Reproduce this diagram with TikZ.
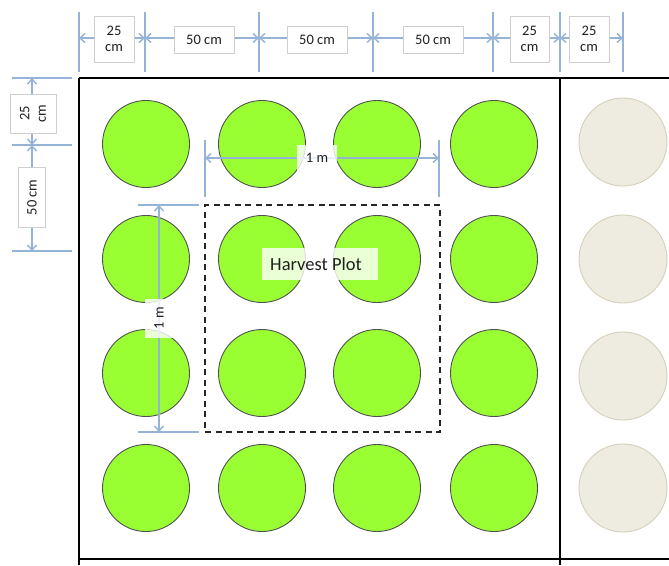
\documentclass[tikz,border=0pt]{standalone}
\usepackage{fontspec}
\setmainfont{Carlito}
\usetikzlibrary{arrows.meta}
\definecolor{dimblue}{HTML}{95B3D7}
\definecolor{plantgreen}{HTML}{99FF33}
\definecolor{plantedge}{HTML}{505050}
\definecolor{guardfill}{HTML}{EEEBE0}
\definecolor{guardedge}{HTML}{D6D0BA}
\definecolor{boxedge}{HTML}{CFCFCF}
\definecolor{labeltext}{HTML}{1F1F1F}
\begin{document}
\begin{tikzpicture}[x=1pt,y=-1pt,
  plant/.style={circle,draw=plantedge,fill=plantgreen,line width=0.9pt,minimum size=87pt,inner sep=0pt},
  guard/.style={circle,draw=guardedge,fill=guardfill,line width=0.9pt,minimum size=88pt,inner sep=0pt},
  extline/.style={draw=dimblue,line width=1.4pt},
  dimline/.style={draw=dimblue,line width=1.4pt,{Straight Barb[length=5pt,width=9pt]}-{Straight Barb[length=5pt,width=9pt]}},
  dimlabel/.style={draw=boxedge,fill=white,line width=0.6pt,inner sep=0pt,align=center,
    font=\fontsize{14.5}{16.5}\selectfont,text=labeltext},
  softlabel/.style={fill=white,fill opacity=0.8,text opacity=1,inner sep=0pt,align=center,
    font=\fontsize{14.5}{16.5}\selectfont,text=labeltext},
  plotline/.style={draw=black,line width=1.8pt},
  harvest/.style={draw=black!85,line width=1.8pt,dash pattern=on 6pt off 4.5pt}]
\useasboundingbox (0,0) rectangle (669,565);

% plot outline and neighbouring plot divider
\coordinate (btl) at (79,78);
\coordinate (btr) at (669,78);
\coordinate (bbl) at (79,559);
\coordinate (bbr) at (669,559);
\coordinate (lbot) at (79,565);
\coordinate (dtop) at (560,78);
\coordinate (dbot) at (560,565);
\draw[plotline] (btl) -- (btr);
\draw[plotline] (bbl) -- (bbr);
\draw[plotline] (btl) -- (lbot);
\draw[plotline] (dtop) -- (dbot);

% plants of the plot, 4 x 4
\foreach \r/\y in {1/144,2/259,3/373,4/488}{
  \foreach \c/\x in {1/146,2/262,3/377,4/494}{
    \node[plant] (p\r\c) at (\x,\y) {};
  }
}
% plants of the neighbouring plot
\foreach \r/\y in {1/142,2/259,3/376,4/488}{
  \node[guard] (g\r) at (623,\y) {};
}

% harvest plot
\node[harvest,minimum width=235pt,minimum height=227pt,inner sep=0pt] (hp) at (322.5,318.5) {};
\node[softlabel,minimum width=116pt,minimum height=32pt,font=\fontsize{18.5}{21}\selectfont] (hplabel) at (320,264) {Harvest Plot\hspace{8pt}};

% top row of dimensions
\foreach \i/\x in {0/79,1/145,2/259,3/373,4/493,5/560,6/623}{
  \coordinate (te\i a) at (\x,12);
  \coordinate (te\i b) at (\x,72);
  \coordinate (td\i) at (\x,38);
  \draw[extline] (te\i a) -- (te\i b);
}
\foreach \i/\j in {0/1,1/2,2/3,3/4,4/5,5/6}{
  \draw[dimline] (td\i) -- (td\j);
}
\node[dimlabel,minimum width=40pt,minimum height=46pt] (tl1) at (114,39) {25\\cm};
\node[dimlabel,minimum width=60pt,minimum height=27pt] (tl2) at (204,39.5) {50 cm};
\node[dimlabel,minimum width=60pt,minimum height=27pt] (tl3) at (317,39.5) {50 cm};
\node[dimlabel,minimum width=60pt,minimum height=27pt] (tl4) at (433,39.5) {50 cm};
\node[dimlabel,minimum width=39pt,minimum height=46pt] (tl5) at (529.5,39) {25\\cm};
\node[dimlabel,minimum width=40pt,minimum height=46pt] (tl6) at (589,39) {25\\cm};

% left column of dimensions
\foreach \i/\y in {0/78,1/145,2/251}{
  \coordinate (le\i a) at (12,\y);
  \coordinate (le\i b) at (72,\y);
  \coordinate (ld\i) at (32,\y);
  \draw[extline] (le\i a) -- (le\i b);
}
\draw[dimline] (ld0) -- (ld1);
\draw[dimline] (ld1) -- (ld2);
\node[dimlabel,rotate=90,minimum width=39pt,minimum height=46pt] (ll1) at (33,113.5) {25\\cm};
\node[dimlabel,rotate=90,minimum width=60pt,minimum height=27pt] (ll2) at (32,197.5) {50 cm};

% one metre across the harvest plot
\coordinate (he1a) at (205,140);
\coordinate (he1b) at (205,197);
\coordinate (he2a) at (439,140);
\coordinate (he2b) at (439,197);
\coordinate (hd1) at (205,158);
\coordinate (hd2) at (439,158);
\draw[extline] (he1a) -- (he1b);
\draw[extline] (he2a) -- (he2b);
\draw[dimline] (hd1) -- (hd2);
\node[softlabel,minimum width=40pt,minimum height=26pt] (hlab) at (317,158) {1 m};

% one metre down the harvest plot
\coordinate (ve1a) at (138,205);
\coordinate (ve1b) at (199,205);
\coordinate (ve2a) at (138,432);
\coordinate (ve2b) at (199,432);
\coordinate (vd1) at (159,205);
\coordinate (vd2) at (159,432);
\draw[extline] (ve1a) -- (ve1b);
\draw[extline] (ve2a) -- (ve2b);
\draw[dimline] (vd1) -- (vd2);
\node[softlabel,rotate=90,minimum width=39pt,minimum height=28pt] (vlab) at (159,318.5) {1 m};
\end{tikzpicture}
\end{document}
